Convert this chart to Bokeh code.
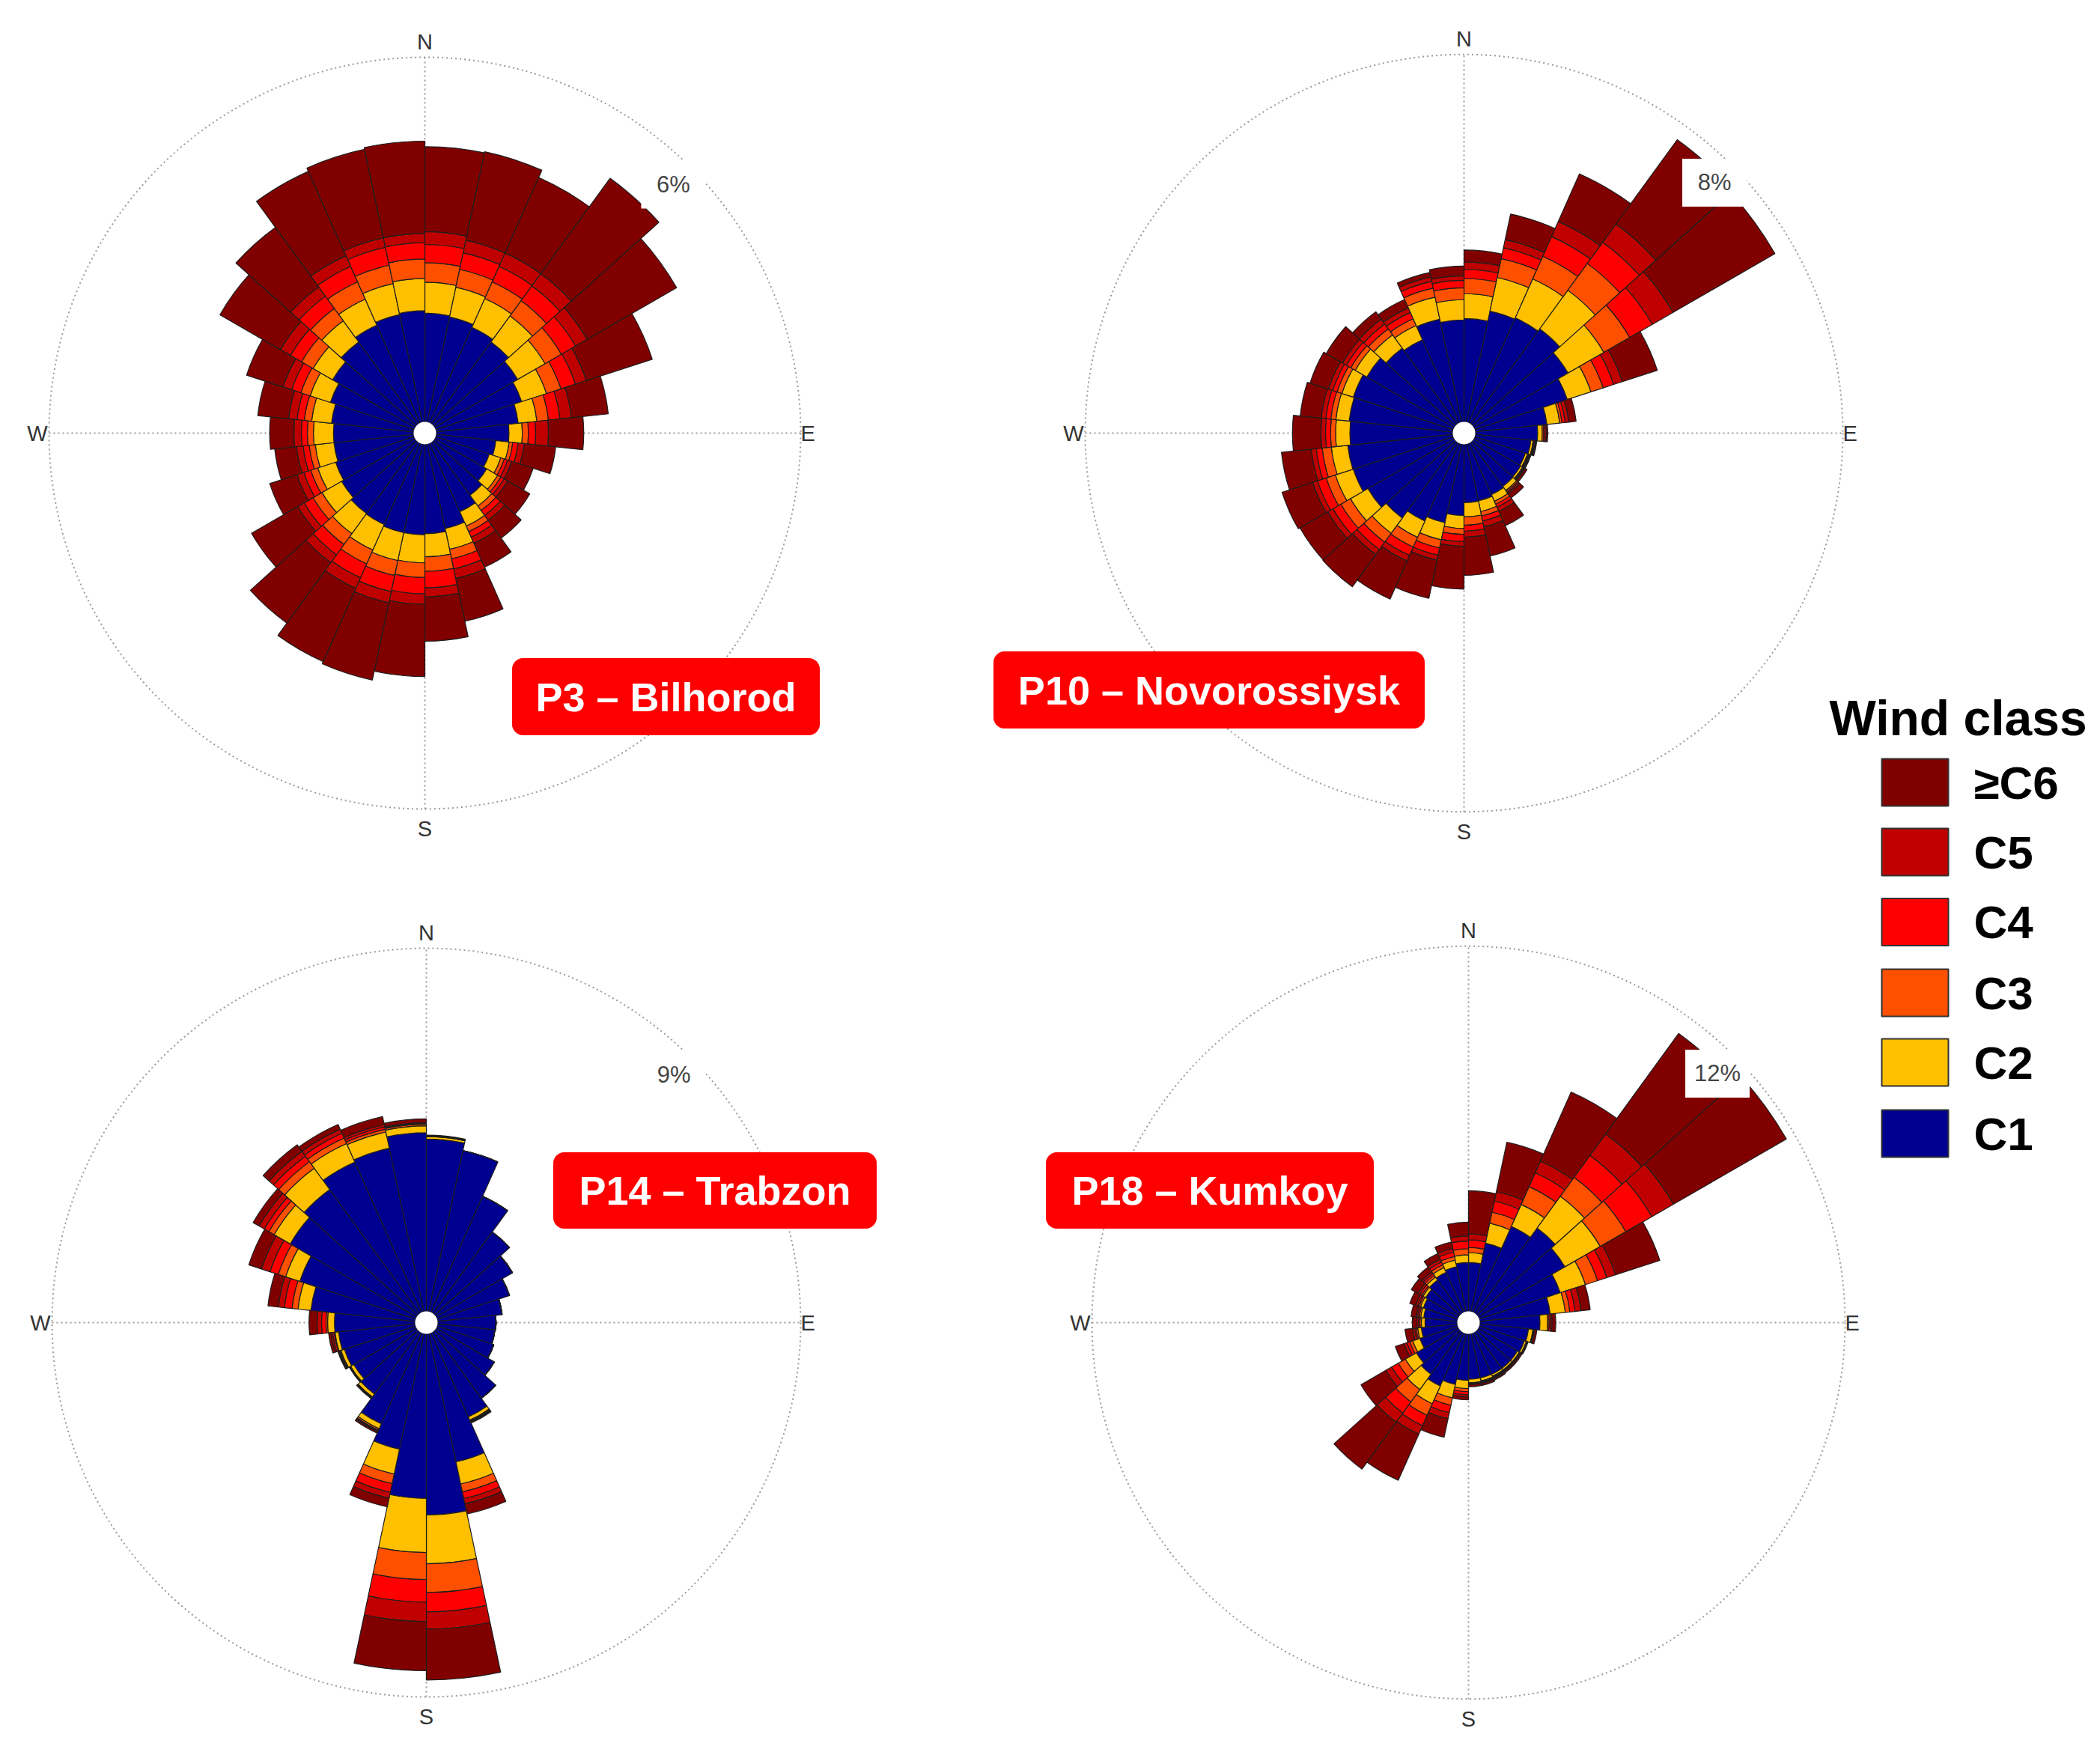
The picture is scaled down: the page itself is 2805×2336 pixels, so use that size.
import numpy as np
from bokeh.plotting import figure
from bokeh.models import Range1d, ColumnDataSource
from bokeh.embed import file_html
from bokeh.resources import INLINE
from bokeh.core.properties import value

# ---------------- data ----------------
sector_start_deg = [0, 12, 24, 36, 48, 60, 72, 84, 96, 108, 120, 132, 144, 156, 168,
                    180, 192, 204, 216, 228, 240, 252, 264, 276, 288, 300, 312, 324, 336, 348]
wind_classes = ["C1", "C2", "C3", "C4", "C5", "≥C6"]
class_colors = ["#000090", "#FFC000", "#FF5000", "#FF0000", "#C00000", "#800000"]

stations = ["P3 – Bilhorod", "P10 – Novorossiysk", "P14 – Trabzon", "P18 – Kumkoy"]
ring_max_pct = [6, 8, 9, 12]

# P3 - Bilhorod (% frequency per sector and class)
p3_c1 = [1.79, 1.77, 1.72, 1.67, 1.58, 1.49, 1.36, 1.20, 0.99, 0.93, 0.99, 1.08, 1.23, 1.42, 1.47,
         1.49, 1.49, 1.46, 1.45, 1.40, 1.36, 1.32, 1.32, 1.36, 1.45, 1.57, 1.67, 1.76, 1.81, 1.83]
p3_c2 = [0.51, 0.50, 0.52, 0.53, 0.52, 0.43, 0.31, 0.22, 0.22, 0.20, 0.21, 0.22, 0.26, 0.35, 0.38,
         0.46, 0.47, 0.46, 0.41, 0.37, 0.31, 0.31, 0.33, 0.33, 0.35, 0.37, 0.43, 0.47, 0.52, 0.53]
p3_c3 = [0.32, 0.30, 0.30, 0.31, 0.31, 0.25, 0.19, 0.10, 0.06, 0.06, 0.06, 0.09, 0.10, 0.16, 0.24,
         0.24, 0.25, 0.25, 0.22, 0.17, 0.12, 0.10, 0.10, 0.12, 0.16, 0.22, 0.25, 0.31, 0.31, 0.32]
p3_c4 = [0.30, 0.28, 0.28, 0.30, 0.27, 0.25, 0.19, 0.12, 0.09, 0.06, 0.06, 0.10, 0.10, 0.17, 0.27,
         0.27, 0.27, 0.25, 0.21, 0.17, 0.12, 0.10, 0.10, 0.12, 0.16, 0.21, 0.25, 0.28, 0.30, 0.27]
p3_c5 = [0.21, 0.21, 0.24, 0.25, 0.22, 0.19, 0.19, 0.21, 0.10, 0.07, 0.07, 0.10, 0.11, 0.16, 0.15,
         0.17, 0.19, 0.19, 0.16, 0.12, 0.12, 0.11, 0.12, 0.14, 0.15, 0.19, 0.19, 0.19, 0.16, 0.15]
p3_c6 = [1.40, 1.49, 1.36, 1.94, 1.70, 1.14, 0.61, 0.58, 0.52, 0.37, 0.42, 0.36, 0.43, 0.72, 0.73,
         1.19, 1.30, 1.32, 1.23, 0.88, 0.47, 0.36, 0.40, 0.51, 0.63, 1.15, 1.21, 1.52, 1.49, 1.52]

# P10 - Novorossiysk
p10_c1 = [2.25, 2.47, 2.50, 2.56, 2.37, 2.12, 1.57, 1.36, 1.22, 1.16, 1.18, 1.19, 1.22, 1.26, 1.27,
          1.55, 1.75, 1.85, 2.04, 2.17, 2.29, 2.30, 2.24, 2.27, 2.29, 2.20, 2.04, 1.98, 2.29, 2.22]
p10_c2 = [0.54, 0.75, 0.93, 1.04, 0.90, 0.54, 0.28, 0.10, 0.05, 0.05, 0.05, 0.11, 0.16, 0.24, 0.31,
          0.28, 0.38, 0.39, 0.41, 0.44, 0.41, 0.36, 0.31, 0.29, 0.26, 0.29, 0.36, 0.34, 0.49, 0.44]
p10_c3 = [0.33, 0.42, 0.54, 0.72, 0.65, 0.28, 0.05, 0.03, 0.02, 0.02, 0.02, 0.03, 0.07, 0.10, 0.18,
          0.13, 0.18, 0.23, 0.24, 0.24, 0.21, 0.20, 0.11, 0.11, 0.11, 0.11, 0.16, 0.16, 0.20, 0.26]
p10_c4 = [0.20, 0.24, 0.47, 0.57, 0.57, 0.24, 0.07, 0.03, 0.02, 0.02, 0.02, 0.03, 0.07, 0.11, 0.13,
          0.16, 0.16, 0.20, 0.20, 0.20, 0.20, 0.13, 0.11, 0.11, 0.10, 0.11, 0.13, 0.15, 0.15, 0.16]
p10_c5 = [0.16, 0.18, 0.36, 0.49, 0.52, 0.20, 0.08, 0.03, 0.02, 0.02, 0.02, 0.03, 0.10, 0.13, 0.13,
          0.10, 0.11, 0.13, 0.13, 0.13, 0.11, 0.11, 0.10, 0.10, 0.10, 0.10, 0.13, 0.11, 0.10, 0.10]
p10_c6 = [0.26, 0.57, 1.13, 2.27, 2.56, 0.80, 0.16, 0.03, 0.02, 0.02, 0.05, 0.11, 0.34, 0.65, 0.83,
          0.93, 0.85, 0.91, 0.87, 0.70, 0.70, 0.65, 0.62, 0.46, 0.42, 0.41, 0.20, 0.20, 0.10, 0.21]

# P14 - Trabzon
p14_c1 = [4.27, 4.08, 3.15, 2.50, 2.19, 1.89, 1.61, 1.45, 1.43, 1.48, 1.67, 2.04, 2.28, 3.25, 4.49,
          4.08, 2.93, 2.47, 1.91, 1.80, 1.86, 1.91, 2.00, 2.60, 3.02, 3.62, 3.80, 4.08, 4.14, 4.43]
p14_c2 = [0.06, 0, 0, 0, 0, 0, 0, 0, 0, 0, 0, 0, 0.09, 0.56, 1.21,
          1.34, 0.63, 0.13, 0.09, 0.09, 0.09, 0.09, 0.17, 0.32, 0.37, 0.46, 0.65, 0.50, 0.41, 0.17]
p14_c3 = [0.01, 0, 0, 0, 0, 0, 0, 0, 0, 0, 0, 0, 0.02, 0.20, 0.71,
          0.67, 0.24, 0.04, 0.02, 0.01, 0.02, 0.02, 0.04, 0.15, 0.19, 0.15, 0.20, 0.15, 0.07, 0.04]
p14_c4 = [0.01, 0, 0, 0, 0, 0, 0, 0, 0, 0, 0, 0, 0.02, 0.17, 0.48,
          0.56, 0.22, 0.02, 0.01, 0.01, 0.02, 0.04, 0.11, 0.19, 0.22, 0.13, 0.17, 0.13, 0.06, 0.02]
p14_c5 = [0.01, 0, 0, 0, 0, 0, 0, 0, 0, 0, 0, 0, 0.02, 0.13, 0.43,
          0.48, 0.15, 0.02, 0.01, 0.01, 0.02, 0.04, 0.11, 0.15, 0.22, 0.15, 0.15, 0.11, 0.06, 0.02]
p14_c6 = [0.01, 0, 0, 0, 0, 0, 0, 0, 0, 0, 0, 0, 0.02, 0.26, 1.26,
          1.22, 0.22, 0.04, 0.01, 0.01, 0.02, 0.06, 0.20, 0.26, 0.33, 0.17, 0.20, 0.13, 0.20, 0.09]

# P18 - Kumkoy
p18_c1 = [1.61, 2.30, 3.09, 3.47, 3.29, 2.80, 2.33, 1.98, 1.61, 1.56, 1.49, 1.49, 1.49, 1.49, 1.49,
          1.53, 1.71, 1.91, 1.73, 1.61, 1.31, 1.19, 1.06, 1.11, 1.19, 1.26, 1.36, 1.44, 1.51, 1.61]
p18_c2 = [0.32, 0.67, 0.79, 1.29, 1.34, 0.87, 0.50, 0.25, 0.15, 0.07, 0.07, 0.07, 0.07, 0.10, 0.12,
          0.27, 0.45, 0.64, 0.62, 0.42, 0.25, 0.12, 0.12, 0.10, 0.10, 0.10, 0.12, 0.17, 0.22, 0.25]
p18_c3 = [0.17, 0.37, 0.64, 0.77, 0.97, 0.42, 0.15, 0.05, 0.02, 0.02, 0.02, 0.02, 0.03, 0.03, 0.02,
          0.10, 0.25, 0.42, 0.50, 0.27, 0.10, 0.05, 0.05, 0.05, 0.05, 0.05, 0.07, 0.10, 0.12, 0.20]
p18_c4 = [0.25, 0.37, 0.50, 0.89, 0.99, 0.32, 0.17, 0.05, 0.02, 0.01, 0.02, 0.02, 0.03, 0.03, 0.02,
          0.10, 0.25, 0.37, 0.45, 0.25, 0.10, 0.05, 0.05, 0.05, 0.05, 0.07, 0.07, 0.10, 0.15, 0.25]
p18_c5 = [0.20, 0.32, 0.42, 0.87, 0.82, 0.30, 0.20, 0.05, 0.02, 0.01, 0.02, 0.02, 0.03, 0.03, 0.02,
          0.07, 0.20, 0.30, 0.37, 0.22, 0.10, 0.07, 0.05, 0.05, 0.07, 0.07, 0.07, 0.10, 0.12, 0.17]
p18_c6 = [1.41, 1.66, 2.48, 4.08, 4.28, 1.53, 0.30, 0.12, 0.07, 0.02, 0.05, 0.05, 0.05, 0.06, 0.07,
          0.10, 0.62, 1.66, 1.91, 0.94, 0.30, 0.25, 0.15, 0.17, 0.20, 0.25, 0.20, 0.20, 0.22, 0.45]

station_data = [
    [p3_c1, p3_c2, p3_c3, p3_c4, p3_c5, p3_c6],
    [p10_c1, p10_c2, p10_c3, p10_c4, p10_c5, p10_c6],
    [p14_c1, p14_c2, p14_c3, p14_c4, p14_c5, p14_c6],
    [p18_c1, p18_c2, p18_c3, p18_c4, p18_c5, p18_c6],
]

# ---------------- layout (page pixels) ----------------
W, H = 2789, 2320
OFF = 0  # observed page offset of the canvas
def px(X):
    return X - OFF
def py(Y):
    return (H + OFF) - Y

rose_center = [(567, 578), (1955, 578), (569, 1766), (1961, 1766)]
rose_radius = [502, 506, 500, 503]
hole_px = 15
title_boxes = [(684, 879, 1094, 981), (1327, 870, 1902, 972), (739, 1539, 1170, 1640), (1397, 1539, 1834, 1640)]

FONT = value("Liberation Sans")
GRID = "#9a9a9a"

p = figure(width=W, height=H, x_range=Range1d(0, W), y_range=Range1d(0, H),
           output_backend="svg", toolbar_location=None, min_border=0,
           x_axis_location=None, y_axis_location=None,
           background_fill_color="white", border_fill_color="white")
p.grid.visible = False
p.outline_line_color = None

start_deg = np.array(sector_start_deg, dtype=float)
start_ang = np.deg2rad(90.0 - (start_deg + 12.0))
end_ang = np.deg2rad(90.0 - start_deg)

for i in range(4):
    vmax = ring_max_pct[i]
    R = rose_radius[i]
    X0, Y0 = rose_center[i]
    h = hole_px * vmax / (R - hole_px)
    umax = vmax + h
    s = R / umax
    cxd, cyd = px(X0), py(Y0)
    xr, yr = f"rx{i}", f"ry{i}"
    p.extra_x_ranges[xr] = Range1d(-cxd / s, (W - cxd) / s)
    p.extra_y_ranges[yr] = Range1d(-cyd / s, (H - cyd) / s)
    kw = dict(x_range_name=xr, y_range_name=yr)

    # grid: outer dotted ring and cross
    p.circle(x=[0], y=[0], radius=umax, fill_color=None, line_color=GRID,
             line_dash="2 4", line_width=2, **kw)
    p.segment(x0=[-umax, 0], y0=[0, -umax], x1=[umax, 0], y1=[0, umax],
              line_color=GRID, line_dash="2 4", line_width=2, **kw)

    vals = np.array(station_data[i], dtype=float)
    cum = np.cumsum(vals, axis=0)
    for k in range(6):
        src = ColumnDataSource(dict(
            x=np.zeros(30), y=np.zeros(30),
            inner=h + cum[k] - vals[k], outer=h + cum[k],
            start=start_ang, end=end_ang))
        p.annular_wedge(x="x", y="y", inner_radius="inner", outer_radius="outer",
                        start_angle="start", end_angle="end", source=src,
                        fill_color=class_colors[k], line_color="#1e1e1e",
                        line_width=1.2, **kw)

    # centre hole
    p.circle(x=[0], y=[0], radius=h, fill_color="white", line_color=None, **kw)

    # compass labels
    lab = dict(text_font=FONT, text_font_size=value("29px"), text_color="#333333", **kw)
    p.text(x=[0], y=[umax + 5 / s], text=["N"], text_align="center", text_baseline="bottom", **lab)
    p.text(x=[umax + 0 / s], y=[0], text=["E"], text_align="left", text_baseline="middle", **lab)
    p.text(x=[0], y=[-(umax + 10 / s)], text=["S"], text_align="center", text_baseline="top", **lab)
    p.text(x=[-(umax + 2 / s)], y=[0], text=["W"], text_align="right", text_baseline="middle", **lab)

    # ring percentage label
    rl = 0.935 * umax * np.sqrt(0.5)
    p.rect(x=[rl], y=[rl], width=86, height=64, width_units="screen", height_units="screen",
           fill_color="white", line_color=None, **kw)
    p.text(x=[rl], y=[rl], text=[f"{vmax}%"], text_align="center", text_baseline="middle",
           text_font=FONT, text_font_size=value("31px"), text_color="#444444", **kw)

# station title boxes (rounded)
def rounded_rect(x0, y0, x1, y1, r, n=10):
    xs, ys = [], []
    corners = [(x1 - r, y0 + r, -90, 0), (x1 - r, y1 - r, 0, 90),
               (x0 + r, y1 - r, 90, 180), (x0 + r, y0 + r, 180, 270)]
    for ccx, ccy, a0, a1 in corners:
        t = np.deg2rad(np.linspace(a0, a1, n))
        xs.extend(px(ccx + r * np.cos(t)))
        ys.extend(py(ccy + r * np.sin(t)))
    return xs, ys

for i in range(4):
    x0, y0, x1, y1 = title_boxes[i]
    xs, ys = rounded_rect(x0, y0, x1, y1, 14)
    p.patch(xs, ys, fill_color="#FF0000", line_color="#FF0000", line_width=1)
    p.text(x=[px((x0 + x1) / 2)], y=[py((y0 + y1) / 2)], text=[stations[i]],
           text_align="center", text_baseline="middle", text_font=FONT,
           text_font_style="bold", text_font_size=value("54px"), text_color="white")

# legend
p.text(x=[px(2443)], y=[py(958)], text=["Wind class"], text_align="left",
       text_baseline="alphabetic", text_font=FONT, text_font_style="bold",
       text_font_size=value("66px"), text_color="#000000")
legend_y = [1044.5, 1137.5, 1231, 1325.5, 1418.5, 1513.5]
for j, k in enumerate(range(5, -1, -1)):
    p.rect(x=[px(2557.5)], y=[py(legend_y[j])], width=89, height=63,
           fill_color=class_colors[k], line_color="#333333", line_width=2)
    p.text(x=[px(2636)], y=[py(legend_y[j])], text=[wind_classes[k]], text_align="left",
           text_baseline="middle", text_font=FONT, text_font_style="bold",
           text_font_size=value("62px"), text_color="#000000")

open("out.html", "w").write(file_html(p, INLINE))
